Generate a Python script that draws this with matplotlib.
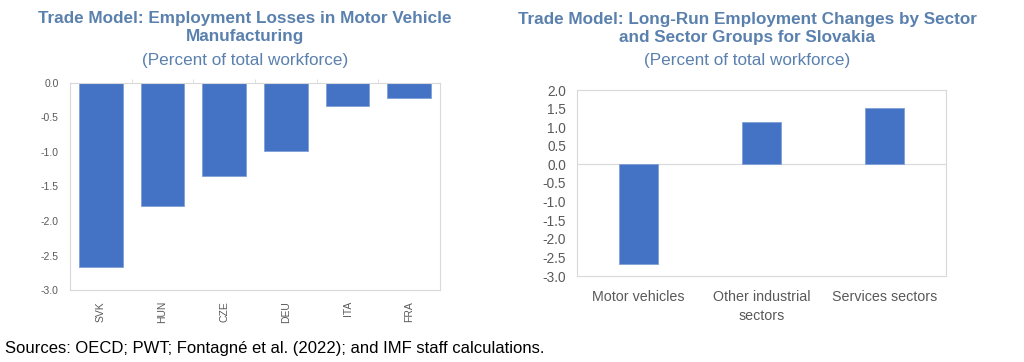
import numpy as np
import matplotlib.pyplot as plt

# left panel data
countries = ['SVK', 'HUN', 'CZE', 'DEU', 'ITA', 'FRA']
losses = [-2.67, -1.78, -1.35, -0.98, -0.33, -0.22]

# right panel data
sectors = ['Motor vehicles', 'Other industrial\nsectors', 'Services sectors']
changes = [-2.68, 1.14, 1.52]

bar_col = '#4472C4'
title_col = '#5A80AE'
tick_col = '#595959'
grid_col = '#D9D9D9'

plt.rcParams['font.family'] = ['Liberation Sans', 'DejaVu Sans']

fig = plt.figure(figsize=(10.24, 3.62), dpi=100)

# left chart
ax1 = fig.add_axes([70/1024, 1-290/362, 370/1024, 207/362])
x = np.arange(len(countries))
ax1.bar(x, losses, width=0.71, color=bar_col, edgecolor='#7F9FD6', linewidth=0.6)
ax1.set_xlim(-0.5, len(countries)-0.5)
ax1.set_ylim(-3.0, 0.0)
ax1.set_yticks(np.arange(-3.0, 0.01, 0.5))
ax1.set_yticklabels(['%.1f' % v for v in np.arange(-3.0, 0.01, 0.5)])
ax1.set_xticks(x)
ax1.set_xticklabels(countries, rotation=90)
ax1.set_xticks(x[:-1] + 0.5, minor=True)
ax1.tick_params(axis='x', which='major', length=0, pad=8, labelsize=7.5, labelcolor=tick_col)
ax1.tick_params(axis='x', which='minor', top=True, bottom=False, length=3, color=grid_col, direction='out')
ax1.tick_params(axis='y', length=0, pad=8, labelsize=7.5, labelcolor=tick_col)
for s in ax1.spines.values():
    s.set_color(grid_col)
    s.set_linewidth(0.8)
fig.text(245/1024, 1-27.5/362, 'Trade Model: Employment Losses in Motor Vehicle\nManufacturing',
         ha='center', va='center', fontsize=12.3, fontweight='bold', color=title_col, linespacing=1.2)
fig.text(245/1024, 1-60/362, '(Percent of total workforce)', ha='center', va='center',
         fontsize=12.3, color=title_col)

# right chart
ax2 = fig.add_axes([577/1024, 1-276/362, 369/1024, 186/362])
x2 = np.arange(len(sectors))
ax2.bar(x2, changes, width=0.32, color=bar_col, edgecolor='#7F9FD6', linewidth=0.6, zorder=3)
ax2.axhline(0, color=grid_col, linewidth=0.8, zorder=2)
ax2.set_xlim(-0.5, len(sectors)-0.5)
ax2.set_ylim(-3.0, 2.0)
yt = np.arange(-3.0, 2.01, 0.5)
ax2.set_yticks(yt)
ax2.set_yticklabels(['%.1f' % v for v in yt])
ax2.set_xticks(x2)
ax2.set_xticklabels(sectors, linespacing=1.45)
ax2.tick_params(axis='x', length=0, pad=10, labelsize=10.3, labelcolor=tick_col)
ax2.tick_params(axis='y', length=0, pad=8, labelsize=9.8, labelcolor=tick_col)
for s in ax2.spines.values():
    s.set_color(grid_col)
    s.set_linewidth(0.8)
fig.text(747/1024, 1-28.5/362, 'Trade Model: Long-Run Employment Changes by Sector\nand Sector Groups for Slovakia',
         ha='center', va='center', fontsize=12.3, fontweight='bold', color=title_col, linespacing=1.2)
fig.text(747/1024, 1-60/362, '(Percent of total workforce)', ha='center', va='center',
         fontsize=12.3, color=title_col)

fig.text(5/1024, 1-349/362, 'Sources: OECD; PWT; Fontagné et al. (2022); and IMF staff calculations.',
         ha='left', va='center', fontsize=12, color='black')

fig.savefig('out.png', dpi=100)
